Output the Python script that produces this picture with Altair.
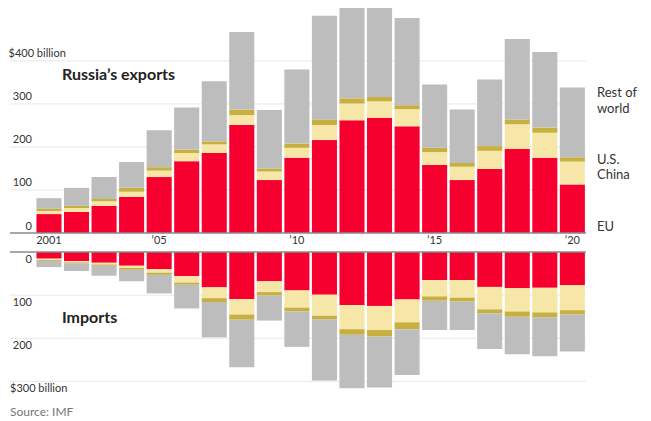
import altair as alt
import pandas as pd

years = list(range(2001, 2021))
regions = ["EU", "China", "U.S.", "Rest of world"]

# Exports, $ billion
exp_eu = [44, 49, 63, 84, 130, 167, 186, 251, 123, 175, 216, 262, 268, 248, 158, 123, 149, 195, 175, 113]
exp_china = [7, 9, 11, 12, 15, 19, 20, 23, 20, 23, 35, 39, 38, 40, 30, 31, 42, 58, 58, 53]
exp_us = [5, 5, 5, 9, 8, 8, 7, 13, 7, 10, 13, 12, 10, 9, 10, 9, 11, 11, 12, 10]
exp_row = [25, 42, 51, 60, 86, 98, 140, 180, 136, 172, 241, 213, 214, 203, 147, 124, 155, 187, 176, 162]

# Imports, $ billion
imp_eu = [15.5, 21, 25, 32, 40, 56, 82, 109, 68, 89, 99, 123, 125, 110, 65, 65, 81, 84, 83, 77]
imp_china = [3, 3, 4, 5, 8, 15, 25, 36, 25, 40, 49, 56, 56, 53, 38, 41, 52, 54, 57, 58]
imp_us = [2, 2, 3, 4, 5, 5, 9, 12, 8, 8.5, 8, 13, 15, 16, 10, 9, 9, 12, 11.5, 10]
imp_row = [14.5, 18, 23, 27, 43, 55, 82, 110, 58, 82.5, 142, 124, 118, 106, 68, 66, 83, 87, 90, 86]

exp_ticks = [0, 100, 200, 300]
exp_ticks_text = ["0", "100", "200", "300"]
exp_top_tick = [400]
exp_top_text = ["$400 billion"]
imp_ticks = [0, 100, 200]
imp_ticks_text = ["0", "100", "200"]
imp_bottom_tick = [300]
imp_bottom_text = ["$300 billion"]

year_ticks = [2001, 2005, 2010, 2015, 2020]
year_ticks_text = ["2001", "\u201905", "\u201910", "\u201915", "\u201920"]

legend_text = ["Rest of", "world", "U.S.", "China", "EU"]
legend_anchor = [325, 288, 170, 135, 14]

colors = ["#f5002f", "#f6e7a8", "#c8b040", "#bdbdbd"]
FONT = "Lato"
W, HE, HI = 576, 225, 138


def long_df(series):
    rows = []
    for i, (r, vals) in enumerate(zip(regions, series)):
        for y, v in zip(years, vals):
            rows.append({"year": y, "region": r, "value": v, "order": i})
    return pd.DataFrame(rows)


exp_df = long_df([exp_eu, exp_china, exp_us, exp_row])
imp_df = long_df([imp_eu, imp_china, imp_us, imp_row])

xscale = alt.Scale(domain=years, paddingInner=0.09, paddingOuter=0.5, align=0.96)
color = alt.Color("region:N", scale=alt.Scale(domain=regions, range=colors), legend=None)
exp_y = alt.Scale(domain=[0, 523], nice=False)
imp_y = alt.Scale(domain=[0, 320], nice=False, reverse=True)


def panel(df, yscale, ticks, ticks_text, end_tick, end_text, label_dy, end_x):
    grid_vals = [t for t in ticks if t != 0] + end_tick
    grid = alt.Chart(pd.DataFrame({"v": grid_vals})).mark_rule(
        color="#e8e8e8", strokeWidth=1
    ).encode(y=alt.Y("v:Q", scale=yscale, axis=None), x=alt.value(0), x2=alt.value(W))
    bars = alt.Chart(df).mark_bar(clip=True).encode(
        x=alt.X("year:O", scale=xscale, axis=None),
        y=alt.Y("value:Q", stack="zero", scale=yscale, axis=None),
        color=color,
        order=alt.Order("order:Q"),
    )
    zero = alt.Chart(pd.DataFrame({"v": [0]})).mark_rule(
        color="#8a8a8a", strokeWidth=1.5
    ).encode(y=alt.Y("v:Q", scale=yscale, axis=None), x=alt.value(0), x2=alt.value(W))
    lbl = alt.Chart(pd.DataFrame({"v": ticks, "t": ticks_text})).mark_text(
        align="right", baseline="middle", dy=label_dy, fontSize=11, font=FONT, color="#333"
    ).encode(y=alt.Y("v:Q", scale=yscale, axis=None), x=alt.value(22), text="t:N")
    lbl_end = alt.Chart(pd.DataFrame({"v": end_tick, "t": end_text})).mark_text(
        align="left", baseline="middle", dy=label_dy, fontSize=11, font=FONT, color="#333"
    ).encode(y=alt.Y("v:Q", scale=yscale, axis=None), x=alt.value(end_x), text="t:N")
    return [grid, bars, zero, lbl, lbl_end]


exp_layers = panel(exp_df, exp_y, exp_ticks, exp_ticks_text, exp_top_tick, exp_top_text, -6.5, -1.5)
years_txt = alt.Chart(pd.DataFrame({"year": year_ticks, "t": year_ticks_text})).mark_text(
    baseline="middle", fontSize=11, font=FONT, color="#333"
).encode(x=alt.X("year:O", scale=xscale, axis=None), y=alt.value(HE + 8), text="t:N")
title_e = alt.Chart(pd.DataFrame({"t": ["Russia\u2019s exports"]})).mark_text(
    align="left", baseline="middle", fontSize=16, fontWeight="bold", font=FONT, color="#222"
).encode(x=alt.value(52), y=alt.value(67), text="t:N")
legend = alt.Chart(pd.DataFrame({"t": legend_text, "v": legend_anchor})).mark_text(
    align="left", baseline="middle", fontSize=13, font=FONT, color="#333"
).encode(y=alt.Y("v:Q", scale=exp_y, axis=None), x=alt.value(587), text="t:N")

exports = alt.layer(*exp_layers, years_txt, title_e, legend).properties(width=W, height=HE)

imp_layers = panel(imp_df, imp_y, imp_ticks, imp_ticks_text, imp_bottom_tick, imp_bottom_text, 7.5, 0)
title_i = alt.Chart(pd.DataFrame({"t": ["Imports"]})).mark_text(
    align="left", baseline="middle", fontSize=16, fontWeight="bold", font=FONT, color="#222"
).encode(x=alt.value(52), y=alt.value(66), text="t:N")
source = alt.Chart(pd.DataFrame({"t": ["Source: IMF"]})).mark_text(
    align="left", baseline="middle", fontSize=12, font=FONT, color="#777"
).encode(x=alt.value(0), y=alt.value(160), text="t:N")

imports = alt.layer(*imp_layers, title_i, source).properties(width=W, height=HI)

chart = alt.vconcat(exports, imports, spacing=19, bounds="flush").properties(
    padding={"left": 0, "top": 0, "right": 5, "bottom": 0}
).configure(font=FONT).configure_view(stroke=None, strokeWidth=0)

chart.save("out.html", embed_options={"renderer": "svg", "actions": False})
